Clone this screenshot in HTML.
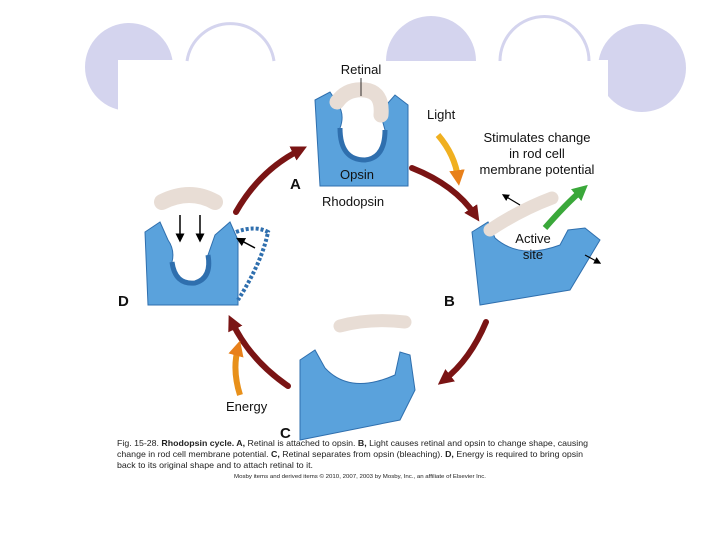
<!DOCTYPE html>
<html><head><meta charset="utf-8"><style>
body{margin:0;background:#fff;width:720px;height:540px;overflow:hidden;font-family:"Liberation Sans",sans-serif}
svg{position:absolute;left:0;top:0}
</style></head><body>
<svg width="720" height="540" viewBox="0 0 720 540" font-family="Liberation Sans, sans-serif">
<defs>
<marker id="ar" viewBox="0 0 10 10" refX="5" refY="5" markerWidth="2.6" markerHeight="2.6" orient="auto"><path d="M0,0L10,5L0,10z" fill="#7a1414"/></marker>
<marker id="ay" viewBox="0 0 10 10" refX="5" refY="5" markerWidth="2.6" markerHeight="2.6" orient="auto"><path d="M0,0L10,5L0,10z" fill="#e8801a"/></marker>
<marker id="ag" viewBox="0 0 10 10" refX="5" refY="5" markerWidth="2.6" markerHeight="2.6" orient="auto"><path d="M0,0L10,5L0,10z" fill="#3aa83a"/></marker>
<marker id="ak" viewBox="0 0 10 10" refX="5" refY="5" markerWidth="6" markerHeight="6" orient="auto"><path d="M0,0L10,5L0,10z" fill="#000"/></marker>
</defs>
<g fill="#d4d4ee">
<circle cx="129" cy="67" r="44"/>
<path d="M386,61 A45,45 0 0 1 476,61Z"/>
<circle cx="642" cy="68" r="44"/>
</g>
<rect x="118" y="60" width="60" height="60" fill="#fff"/>
<rect x="596" y="60" width="12" height="60" fill="#fff"/>
<g fill="none" stroke="#d4d4ee" stroke-width="3">
<path d="M187,61 A44,44 0 0 1 274,61"/>
<path d="M500,61 A44,44 0 0 1 589,61"/>
</g>
<g fill="none" stroke="#7a1414" stroke-width="6" stroke-linecap="round">
<path d="M236,212 Q260,170 300,150" marker-end="url(#ar)"/>
<path d="M412,168 Q455,185 475,215" marker-end="url(#ar)"/>
<path d="M486,322 Q470,360 444,380" marker-end="url(#ar)"/>
<path d="M288,386 Q250,360 232,322" marker-end="url(#ar)"/>
</g>
<path d="M438,135 Q455,155 458,178" stroke="#f0b020" stroke-width="6" fill="none" marker-end="url(#ay)"/>
<path d="M545,228 Q565,205 582,190" stroke="#3aa83a" stroke-width="6" fill="none" marker-end="url(#ag)"/>
<path d="M240,395 Q232,370 238,348" stroke="#e8901a" stroke-width="6" fill="none" marker-end="url(#ay)"/>
<!-- A -->
<path d="M315,100 L330,92 L338,104 Q345,115 340,128 Q340,160 365,160 Q385,158 385,130 L380,112 L395,95 L408,105 L408,186 L320,186 Z" fill="#5aa2dc" stroke="#2f6fae"/>
<path d="M340,128 Q340,160 365,160 Q385,158 385,130" fill="none" stroke="#2f6fae" stroke-width="5"/>
<path d="M337,102 Q347,88 365,90 Q383,92 381,115" fill="none" stroke="#e8ddd5" stroke-width="15" stroke-linecap="round"/>
<line x1="361" y1="78" x2="361" y2="96" stroke="#000" stroke-width="0.8"/>
<!-- D -->
<path d="M145,232 L160,222 L168,240 Q175,250 172,262 Q175,285 195,283 Q212,278 208,255 L215,235 L230,222 L238,240 L238,305 L148,305 Z" fill="#5aa2dc" stroke="#2f6fae"/>
<path d="M172,262 Q175,285 195,283 Q212,278 208,255" fill="none" stroke="#2f6fae" stroke-width="5"/>
<path d="M162,202 Q190,188 215,202" fill="none" stroke="#e8ddd5" stroke-width="16" stroke-linecap="round"/>
<path d="M236,232 Q255,225 268,232 Q262,262 238,300" fill="none" stroke="#2f6fae" stroke-dasharray="3,2" stroke-width="4"/>
<g stroke="#000" stroke-width="1.5">
<line x1="180" y1="215" x2="180" y2="238" marker-end="url(#ak)"/>
<line x1="200" y1="215" x2="200" y2="238" marker-end="url(#ak)"/>
<line x1="255" y1="248" x2="240" y2="240" marker-end="url(#ak)"/>
</g>
<!-- B -->
<path d="M472,232 L488,222 L495,238 Q520,260 560,245 L568,230 L585,228 L600,240 L570,290 L480,305 Z" fill="#5aa2dc" stroke="#2f6fae"/>
<path d="M490,230 Q520,210 552,198" fill="none" stroke="#e8ddd5" stroke-width="13" stroke-linecap="round"/>
<g stroke="#000" stroke-width="1.2">
<line x1="520" y1="205" x2="505" y2="196" marker-end="url(#ak)"/>
<line x1="585" y1="255" x2="598" y2="262" marker-end="url(#ak)"/>
</g>
<!-- C -->
<path d="M300,360 L315,350 L325,368 Q350,395 395,375 L400,352 L410,355 L415,390 L400,420 L300,440 Z" fill="#5aa2dc" stroke="#2f6fae"/>
<path d="M340,326 Q370,318 405,322" fill="none" stroke="#e8ddd5" stroke-width="13" stroke-linecap="round"/>
<g font-size="13" fill="#111">
<text x="361" y="74" text-anchor="middle">Retinal</text>
<text x="427" y="119">Light</text>
<text x="537" y="142" text-anchor="middle">Stimulates change</text>
<text x="537" y="158" text-anchor="middle">in rod cell</text>
<text x="537" y="174" text-anchor="middle">membrane potential</text>
<text x="340" y="179">Opsin</text>
<text x="322" y="206">Rhodopsin</text>
<text x="533" y="243" text-anchor="middle">Active</text>
<text x="533" y="259" text-anchor="middle">site</text>
<text x="226" y="411">Energy</text>
</g>
<g font-size="15" font-weight="bold" fill="#111">
<text x="290" y="189">A</text>
<text x="444" y="306">B</text>
<text x="280" y="438">C</text>
<text x="118" y="306">D</text>
</g>
<g font-size="8.3" fill="#222">
<text x="117" y="446" textLength="471" lengthAdjust="spacingAndGlyphs">Fig. 15-28. <tspan font-weight="bold">Rhodopsin cycle. A,</tspan> Retinal is attached to opsin. <tspan font-weight="bold">B,</tspan> Light causes retinal and opsin to change shape, causing</text>
<text x="117" y="457" textLength="466" lengthAdjust="spacingAndGlyphs">change in rod cell membrane potential. <tspan font-weight="bold">C,</tspan> Retinal separates from opsin (bleaching). <tspan font-weight="bold">D,</tspan> Energy is required to bring opsin</text>
<text x="117" y="468" textLength="196" lengthAdjust="spacingAndGlyphs">back to its original shape and to attach retinal to it.</text>
<text x="234" y="478" font-size="5.5" textLength="252" lengthAdjust="spacingAndGlyphs">Mosby items and derived items © 2010, 2007, 2003 by Mosby, Inc., an affiliate of Elsevier Inc.</text>
</g>
</svg>
</body></html>
